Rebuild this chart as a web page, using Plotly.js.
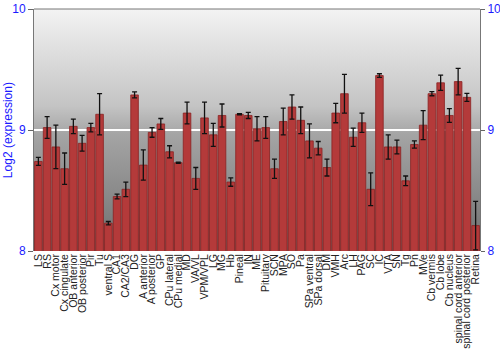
<!DOCTYPE html>
<html>
<head>
<meta charset="utf-8">
<script src="https://cdn.plot.ly/plotly-3.0.1.min.js"></script>
<style>
html,body{margin:0;padding:0;background:#fff;}
#wrap{position:relative;width:500px;height:350px;}
#bg{position:absolute;left:34px;top:9px;width:446px;height:242px;background:linear-gradient(to bottom,#f3f3f3 0%,#c4c4c4 40%,#a4a4a4 52%,#888 78%,#6c6c6c 100%);}
#chart{position:absolute;left:0;top:0;width:500px;height:350px;}
</style>
</head>
<body>
<div id="wrap"><div id="bg"></div><div id="chart"></div></div>
<script>
var categories = ["LS","RS","Cx motor","Cx cingulate","OB anterior","OB posterior","Pir","Tu","ventral S","CA1","CA2/CA3","DG","A anterior","A posterior","GP","CPu lateral","CPu medial","MD","VA/VL","VPM/VPL","LG","MG","Hb","Pineal","IN","ME","Pituitary","SCN","MPA","SO","Pa","SPa ventral","SPa dorsal","DM","VMH","Arc","LH","PAG","SC","IC","VTA","SN","Tg","Pn","MVe","Cb vermis","Cb lobe","Cb nucleus","spinal cord anterior","spinal cord posterior","Retina"];
var values = [8.74,9.02,8.86,8.68,9.03,8.89,9.02,9.13,8.23,8.45,8.51,9.29,8.71,8.98,9.05,8.82,8.73,9.14,8.60,9.10,8.96,9.12,8.57,9.13,9.12,9.01,9.02,8.68,9.07,9.19,9.08,8.91,8.85,8.69,9.14,9.30,8.94,9.06,8.51,9.45,8.86,8.86,8.58,8.88,9.04,9.30,9.39,9.12,9.40,9.27,8.21];
var errors = [0.033,0.09,0.18,0.13,0.06,0.065,0.035,0.17,0.014,0.02,0.06,0.025,0.125,0.04,0.045,0.05,0.005,0.09,0.09,0.13,0.095,0.095,0.035,0.005,0.025,0.1,0.09,0.08,0.11,0.1,0.11,0.14,0.055,0.07,0.08,0.16,0.075,0.08,0.135,0.015,0.1,0.057,0.04,0.03,0.12,0.017,0.063,0.057,0.11,0.033,0.2];
var yTicks = [8,9,10];

var blue = '#1a1aff';
var data = [{
  type:'bar', x:categories, y:values,
  marker:{color:'#b43a3a', line:{color:'#8a2222', width:0.8}},
  error_y:{type:'data', array:errors, visible:true, color:'#111', thickness:1.3, width:2.5},
  hoverinfo:'none'
},{
  type:'scatter', x:[categories[0]], y:[8], yaxis:'y2', mode:'markers', marker:{opacity:0}, showlegend:false, hoverinfo:'none'
}];
var layout = {
  width:500, height:350,
  margin:{l:34, r:20, t:9, b:99},
  paper_bgcolor:'rgba(0,0,0,0)', plot_bgcolor:'rgba(0,0,0,0)',
  showlegend:false, bargap:0.13,
  font:{family:'Liberation Sans, Arial, sans-serif', size:11, color:'#222'},
  xaxis:{type:'category', tickmode:'array', tickvals:categories, ticktext:categories, tickangle:-90, ticks:'', showgrid:false, showline:false, zeroline:false,
    tickfont:{size:10.5, color:'#222'}, range:[-0.5,50.5], automargin:false},
  yaxis:{range:[8,10], tickvals:yTicks, ticktext:yTicks.map(String), ticks:'outside', ticklen:5, tickcolor:'#666',
    tickfont:{size:12, color:blue}, showline:true, linecolor:'#777', linewidth:1, mirror:false,
    showgrid:true, gridcolor:'#ffffff', gridwidth:1.5, zeroline:false, automargin:false},
  yaxis2:{overlaying:'y', side:'right', range:[8,10], tickvals:yTicks, ticktext:yTicks.map(String), ticks:'outside', ticklen:4, tickcolor:'#666',
    tickfont:{size:12, color:blue}, showline:true, linecolor:'#777', linewidth:1, showgrid:false, zeroline:false, automargin:false},
  annotations:[{text:'Log2 (expression)', xref:'paper', yref:'paper', x:-0.058, y:0.5, textangle:-90, showarrow:false,
    xanchor:'center', yanchor:'middle', font:{size:12, color:blue}}],
  shapes:[{type:'line', xref:'paper', yref:'paper', x0:0, x1:1, y0:1, y1:1, line:{color:'#777', width:1}}]
};
Plotly.newPlot('chart', data, layout, {displayModeBar:false, staticPlot:true});
</script>
</body>
</html>
